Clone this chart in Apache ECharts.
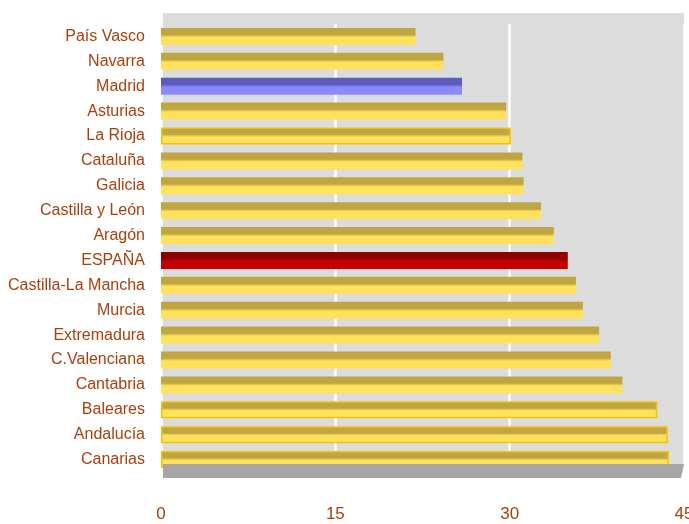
<!DOCTYPE html>
<html><head><meta charset="utf-8">
<script src="https://cdn.jsdelivr.net/npm/echarts@6/dist/echarts.min.js"></script>
<style>html,body{margin:0;padding:0;background:#fff}#c{width:689px;height:524px}</style>
</head><body><div id="c"></div>
<script>
const categories = ["País Vasco","Navarra","Madrid","Asturias","La Rioja","Cataluña","Galicia","Castilla y León","Aragón","ESPAÑA","Castilla-La Mancha","Murcia","Extremadura","C.Valenciana","Cantabria","Baleares","Andalucía","Canarias"];
const values = [21.9,24.3,25.9,29.7,30.1,31.1,31.2,32.7,33.8,35.0,35.7,36.3,37.7,38.7,39.7,42.7,43.6,43.7];
const xTicks = [0,15,30,45];

const chart = echarts.init(document.getElementById('c'));
const grad = (a,b) => new echarts.graphic.LinearGradient(0,0,0,1,[{offset:0,color:a},{offset:0.4,color:a},{offset:0.55,color:b},{offset:1,color:b}]);
function styleFor(name){
  if(name==="Madrid") return {color:grad('#5c5cbc','#8a8aff')};
  if(name==="ESPAÑA") return {color:grad('#8e0000','#c40000')};
  const gold = ["La Rioja","Baleares","Andalucía","Canarias"].includes(name);
  return {color:grad('#c0a642','#ffe15c'), borderColor: gold?'#f2c400':'rgba(0,0,0,0)', borderWidth: gold?1.5:0};
}
const L=161, R=5, T=24, B=52;
chart.setOption({
  animation:false,
  graphic:[
    {type:'rect',shape:{x:L+2,y:13,width:689-R-L-2,height:T-13},style:{fill:'#dcdcdc'},z:-10},
    {type:'polygon',shape:{points:[[L+2,464],[689-R,464],[689-R-3,478],[L+2,478]]},style:{fill:'#a6a6a6'},z:5}
  ],
  grid:{left:L,right:R,top:T,bottom:B,show:true,backgroundColor:'#dcdcdc',borderWidth:0,containLabel:false,outerBoundsMode:'none'},
  xAxis:{type:'value',min:0,max:45,interval:15,
    axisLine:{show:false},axisTick:{show:false},
    splitLine:{show:true,lineStyle:{color:'#ffffff',width:2.5}},
    axisLabel:{color:'#a8400e',fontSize:17,fontFamily:'Liberation Sans, sans-serif',margin:34,
      formatter:v=>xTicks.includes(v)?String(v):''}},
  yAxis:{type:'category',data:categories,inverse:true,
    axisLine:{show:false},axisTick:{show:false},
    axisLabel:{color:'#a8400e',fontSize:16,fontFamily:'Liberation Sans, sans-serif',margin:16}},
  series:[{type:'bar',barWidth:17,
    data:values.map((v,i)=>({value:v,itemStyle:styleFor(categories[i])}))}]
});
</script></body></html>
